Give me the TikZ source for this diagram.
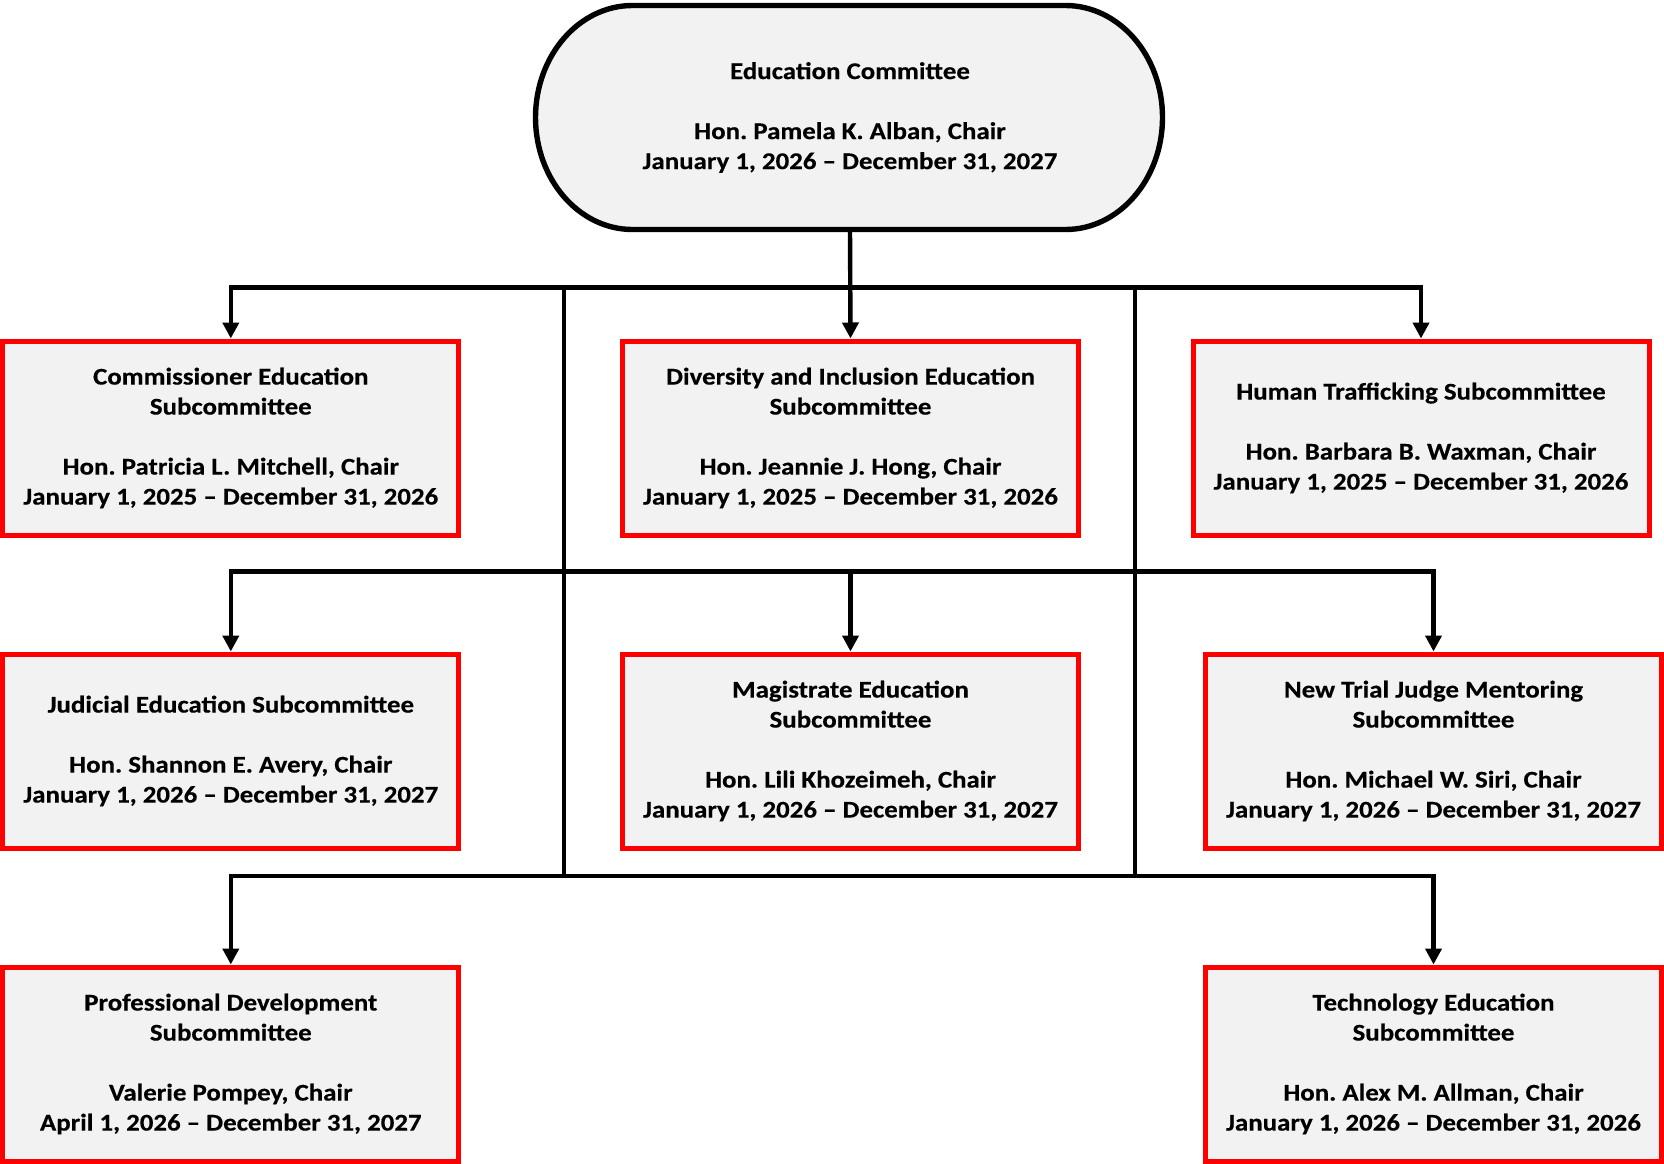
\documentclass[tikz,border=0pt]{standalone}
\usepackage{fontspec}
\setmainfont{Carlito}[FakeStretch=1.12, BoldFeatures={FakeBold=0.4}]
\usetikzlibrary{arrows.meta}
\definecolor{boxfill}{HTML}{F2F2F2}
\definecolor{boxred}{HTML}{FF0000}
\frenchspacing
\begin{document}
\begin{tikzpicture}[x=0.5pt,y=-0.5pt,
  txt/.style={align=center, font=\bfseries\fontsize{12}{15}\selectfont, text=black,
    execute at begin node={\rule{0pt}{11.6pt}}},
  sub/.style={txt, draw=boxred, line width=2.5pt, fill=boxfill, minimum width=228pt, minimum height=97pt, inner sep=0pt},
  ln/.style={line width=2.2pt, draw=black},
  conn/.style={ln, -{Triangle[length=8pt,width=8pt]}}]
\useasboundingbox (0,0) rectangle (1664,1163);
% top committee
\path[fill=boxfill, draw=black, line width=2.7pt]
  (632.5,5.5) -- (1065.5,5.5) arc[start angle=90, end angle=-90, x radius=48.5pt, y radius=56pt]
  -- (632.5,229.5) arc[start angle=270, end angle=90, x radius=48.5pt, y radius=56pt] -- cycle;
\node[txt, minimum width=313.5pt, minimum height=112pt, inner sep=0pt] (top) at (850,117.5)
  {Education Committee\\[15pt]Hon. Pamela K. Alban, Chair\\January 1, 2026 -- December 31, 2027};
% row 1
\node[sub] (com) at (230.8,438) {Commissioner Education\\Subcommittee\\[15pt]Hon. Patricia L. Mitchell, Chair\\January 1, 2025 -- December 31, 2026};
\node[sub] (div) at (850.5,438) {Diversity and Inclusion Education\\Subcommittee\\[15pt]Hon. Jeannie J. Hong, Chair\\January 1, 2025 -- December 31, 2026};
\node[sub] (hum) at (1421,438) {Human Trafficking Subcommittee\\[15pt]Hon. Barbara B. Waxman, Chair\\January 1, 2025 -- December 31, 2026};
% row 2
\node[sub] (jud) at (230.8,751) {Judicial Education Subcommittee\\[15pt]Hon. Shannon E. Avery, Chair\\January 1, 2026 -- December 31, 2027};
\node[sub] (mag) at (850.5,751) {Magistrate Education\\Subcommittee\\[15pt]Hon. Lili Khozeimeh, Chair\\January 1, 2026 -- December 31, 2027};
\node[sub] (new) at (1433.5,751) {New Trial Judge Mentoring\\Subcommittee\\[15pt]Hon. Michael W. Siri, Chair\\January 1, 2026 -- December 31, 2027};
% row 3
\node[sub] (pro) at (230.8,1064) {Professional Development\\Subcommittee\\[15pt]Valerie Pompey, Chair\\April 1, 2026 -- December 31, 2027};
\node[sub] (tec) at (1433.5,1064) {Technology Education\\Subcommittee\\[15pt]Hon. Alex M. Allman, Chair\\January 1, 2026 -- December 31, 2026};
% junction coordinates
\coordinate (h1) at (850,287.5);
\coordinate (h2) at (850.5,571.5);
\coordinate (v1t) at (564,287.5);
\coordinate (v2t) at (1135,287.5);
\coordinate (v1b) at (564,876);
\coordinate (v2b) at (1135,876);
% connectors
\draw[conn] (top.south) -- (div.north);
\draw[conn] (h1) -| (com.north);
\draw[conn] (h1) -| (hum.north);
\draw[ln] (v1t) -- (v1b) -- (v2b) -- (v2t);
\draw[conn] (h2) -| (jud.north);
\draw[conn] (h2) -| (new.north);
\draw[conn] (h2) -- (mag.north);
\draw[conn] (v1b) -| (pro.north);
\draw[conn] (v2b) -| (tec.north);
\end{tikzpicture}
\end{document}
